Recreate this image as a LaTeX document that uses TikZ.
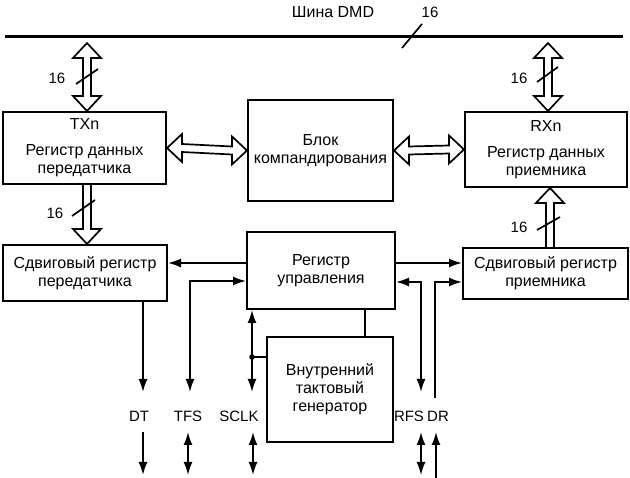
\documentclass[tikz,border=0pt]{standalone}
\usepackage{fontspec}
\setmainfont{Liberation Sans}
\usetikzlibrary{arrows.meta,calc}
\tikzset{
  >={Latex[length=13pt,width=9pt]},
  box/.style={draw,line width=2pt,inner sep=0pt,align=center,font=\fontsize{16}{18}\selectfont},
  lbl/.style={inner sep=0pt,font=\fontsize{15}{17}\selectfont},
  arr/.style={line width=1.7pt},
  fat/.style={line width=1.7pt,fill=white,line join=miter},
  bus/.style={line width=3pt},
  slash/.style={line width=1.7pt}
}
\newcommand{\fatdblV}[2]{\draw[fat] (#1) -- ++(14,15) -- ++(-10,0) -- ($(#2)+(4,-15)$) -- ++(10,0) -- (#2) -- ++(-14,-15) -- ++(10,0) -- ($(#1)+(-4,15)$) -- ++(-10,0) -- cycle;}
\newcommand{\fatdblH}[2]{\draw[fat] (#1) -- ++(15,-14) -- ++(0,10) -- ($(#2)+(-15,-4)$) -- ++(0,-10) -- (#2) -- ++(-15,14) -- ++(0,-10) -- ($(#1)+(15,4)$) -- ++(0,10) -- cycle;}
\newcommand{\fatdown}[2]{\draw[fat,fill=none] ($(#1)+(4,0)$) -- ($(#2)+(4,-15)$) -- ++(10,0) -- (#2) -- ++(-14,-15) -- ++(10,0) -- ($(#1)+(-4,0)$);}
\newcommand{\fatup}[2]{\draw[fat,fill=none] ($(#2)+(-4,0)$) -- ($(#1)+(-4,15)$) -- ++(-10,0) -- (#1) -- ++(14,15) -- ++(-10,0) -- ($(#2)+(4,0)$);}
\begin{document}
\begin{tikzpicture}[x=1pt,y=-1pt]
\useasboundingbox[fill=white] (0,0) rectangle (630,478);

% bus
\coordinate (busL) at (5,37);
\coordinate (busR) at (623,37);
\draw[bus] (busL) -- (busR);
\node[lbl,font=\fontsize{16}{18}\selectfont] (busname) at (333,12) {Шина DMD};
\node[lbl] (bus16) at (430,12) {16};
\draw[slash] (402,48) -- (422,24);

% boxes
\node[box,minimum width=163pt,minimum height=72pt] (tx) at (84.5,148) {TXn\\[8pt]Регистр данных\\передатчика};
\node[box,minimum width=145pt,minimum height=101pt] (comp) at (320.5,150.5) {Блок\\компандирования};
\node[box,minimum width=162pt,minimum height=75pt] (rx) at (546,149.5) {RXn\\[8pt]Регистр данных\\приемника};
\node[box,minimum width=164pt,minimum height=56pt] (sl) at (85,273) {Сдвиговый регистр\\передатчика};
\node[box,minimum width=148pt,minimum height=77pt] (ctl) at (321,270.5) {Регистр\\управления};
\node[box,minimum width=165pt,minimum height=51pt] (sr) at (545.5,273.5) {Сдвиговый регистр\\приемника};
\node[box,minimum width=126pt,minimum height=105pt] (gen) at (330,389.5) {Внутренний\\тактовый\\генератор};

% fat bus arrows
\coordinate (tA) at (87,43);
\fatdblV{tA}{tA |- tx.north}
\draw[slash] (76,84) -- (98,69);
\node[lbl] (t16) at (57,78) {16};

\coordinate (rA) at (548,43);
\fatdblV{rA}{rA |- rx.north}
\draw[slash] (537,82) -- (558,67);
\node[lbl] (r16) at (519,78) {16};

\fatdblH{tx.east}{comp.west}
\fatdblH{comp.east}{rx.west}

\coordinate (tB) at (87,0);
\fatdown{tB |- tx.south}{tB |- sl.north}
\draw[slash] (72,216) -- (95,200);
\node[lbl] (tb16) at (55,213) {16};

\coordinate (rB) at (550,0);
\fatup{rB |- rx.south}{rB |- sr.north}
\draw[slash] (537,230) -- (560,217);
\node[lbl] (rb16) at (519,227) {16};

% control register connections
\coordinate (c1) at ($(ctl.west)+(0,-7.5)$);
\draw[arr,->] (c1) -- (c1 -| sl.east);
\coordinate (c2) at ($(ctl.west)+(0,10.5)$);
\coordinate (tfsT) at (190,392);
\draw[arr,<->] (tfsT) |- (c2);
\coordinate (dtT) at (143,392);
\draw[arr,->] (dtT |- sl.south) -- (dtT);
\coordinate (sclkT) at (252,392);
\draw[arr,<->] (sclkT |- ctl.south) -- (sclkT);
\coordinate (dot) at (252,357);
\fill (dot) circle (2.8pt);
\draw[arr] (dot) -- (dot -| gen.west);
\coordinate (g1) at (365,0);
\draw[arr] (g1 |- gen.north) -- (g1 |- ctl.south);

\coordinate (c3) at ($(ctl.east)+(0,-7.5)$);
\draw[arr,->] (c3) -- (c3 -| sr.west);
\coordinate (c4) at ($(ctl.east)+(0,11.5)$);
\coordinate (rfsT) at (421,392);
\draw[arr,<->] (rfsT) |- (c4);
\coordinate (drT) at (435,398);
\draw[arr,->] (drT) |- ($(sr.west)+(0,8.5)$);

% pin labels
\node[lbl] (dt) at (139,416) {DT};
\node[lbl] (tfs) at (188,416) {TFS};
\node[lbl] (sclk) at (239,416) {SCLK};
\node[lbl] (rfs) at (409,416) {RFS};
\node[lbl] (dr) at (438,416) {DR};

% pin arrows
\coordinate (dtA) at (143,432); \coordinate (dtB) at (143,475);
\draw[arr,->] (dtA) -- (dtB);
\coordinate (tfsA) at (188,432); \coordinate (tfsB) at (188,475);
\draw[arr,<->] (tfsA) -- (tfsB);
\coordinate (sclkA) at (253,432); \coordinate (sclkB) at (253,475);
\draw[arr,<->] (sclkA) -- (sclkB);
\coordinate (rfsA) at (421,432); \coordinate (rfsB) at (421,475);
\draw[arr,<->] (rfsA) -- (rfsB);
\coordinate (drA) at (436,432); \coordinate (drB) at (436,478);
\draw[arr,->] (drB) -- (drA);
\end{tikzpicture}
\end{document}
